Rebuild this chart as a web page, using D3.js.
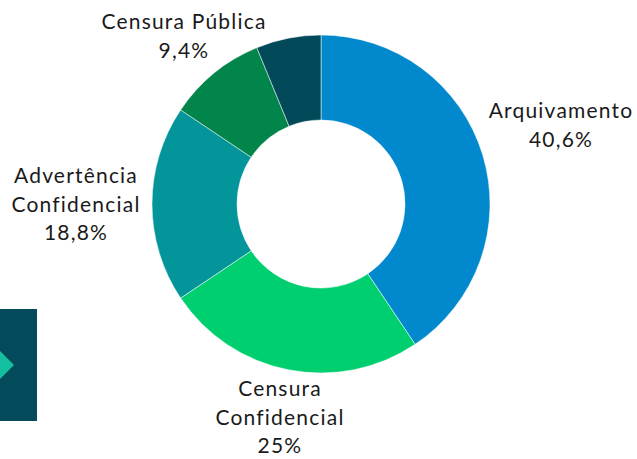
<!DOCTYPE html>
<html lang="pt">
  <head>
    <meta charset="UTF-8" />
    <title>Donut</title>
    <style>
      body { margin: 0; background: #fff; }
      .lbl { font-family: Lato, "Open Sans", sans-serif; font-size: 21px; letter-spacing: 1.2px; fill: #1a1a1a; }
    </style>
  </head>
  <body>
    <div id="app"></div>
    <script src="https://cdn.jsdelivr.net/npm/d3@7"></script>
    <script>
      // dados
      const categories = ["Arquivamento", "Censura Confidencial", "Advertência Confidencial", "Censura Pública", "Outros"];
      const values = [40.6, 25, 18.8, 9.4, 6.2];
      const valueLabels = ["40,6%", "25%", "18,8%", "9,4%", ""];
      const colors = ["#0288cc", "#00cf6f", "#04959b", "#01854a", "#024a59"];

      const width = 637, height = 459;
      const cx = 321, cy = 204;
      const outerR = 169, innerR = 84;

      const svg = d3.select("#app").append("svg")
        .attr("width", width)
        .attr("height", height);

      // caixa lateral
      svg.append("rect").attr("x", 0).attr("y", 309).attr("width", 37).attr("height", 112).attr("fill", "#034b5a");
      svg.append("path").attr("d", "M0,351 L14,365 L0,379 Z").attr("fill", "#14c0a0");

      const pie = d3.pie().sort(null).value(d => d);
      const arc = d3.arc().innerRadius(innerR).outerRadius(outerR);

      const g = svg.append("g").attr("transform", `translate(${cx},${cy})`);
      g.selectAll("path")
        .data(pie(values))
        .enter()
        .append("path")
        .attr("d", arc)
        .attr("fill", (d, i) => colors[i])
        .attr("stroke", "#fff")
        .attr("stroke-width", 0.5);

      // rótulos
      const labels = [
        { lines: ["Arquivamento", valueLabels[0]], x: 561, y: 118 },
        { lines: ["Censura", "Confidencial", valueLabels[1]], x: 280, y: 396 },
        { lines: ["Advertência", "Confidencial", valueLabels[2]], x: 76, y: 183 },
        { lines: ["Censura Pública", valueLabels[3]], x: 184, y: 29 }
      ];

      labels.forEach(l => {
        const t = svg.append("text").attr("class", "lbl").attr("text-anchor", "middle");
        l.lines.forEach((s, i) => {
          t.append("tspan").attr("x", l.x).attr("y", l.y + i * 28.5).text(s);
        });
      });
    </script>
  </body>
</html>
